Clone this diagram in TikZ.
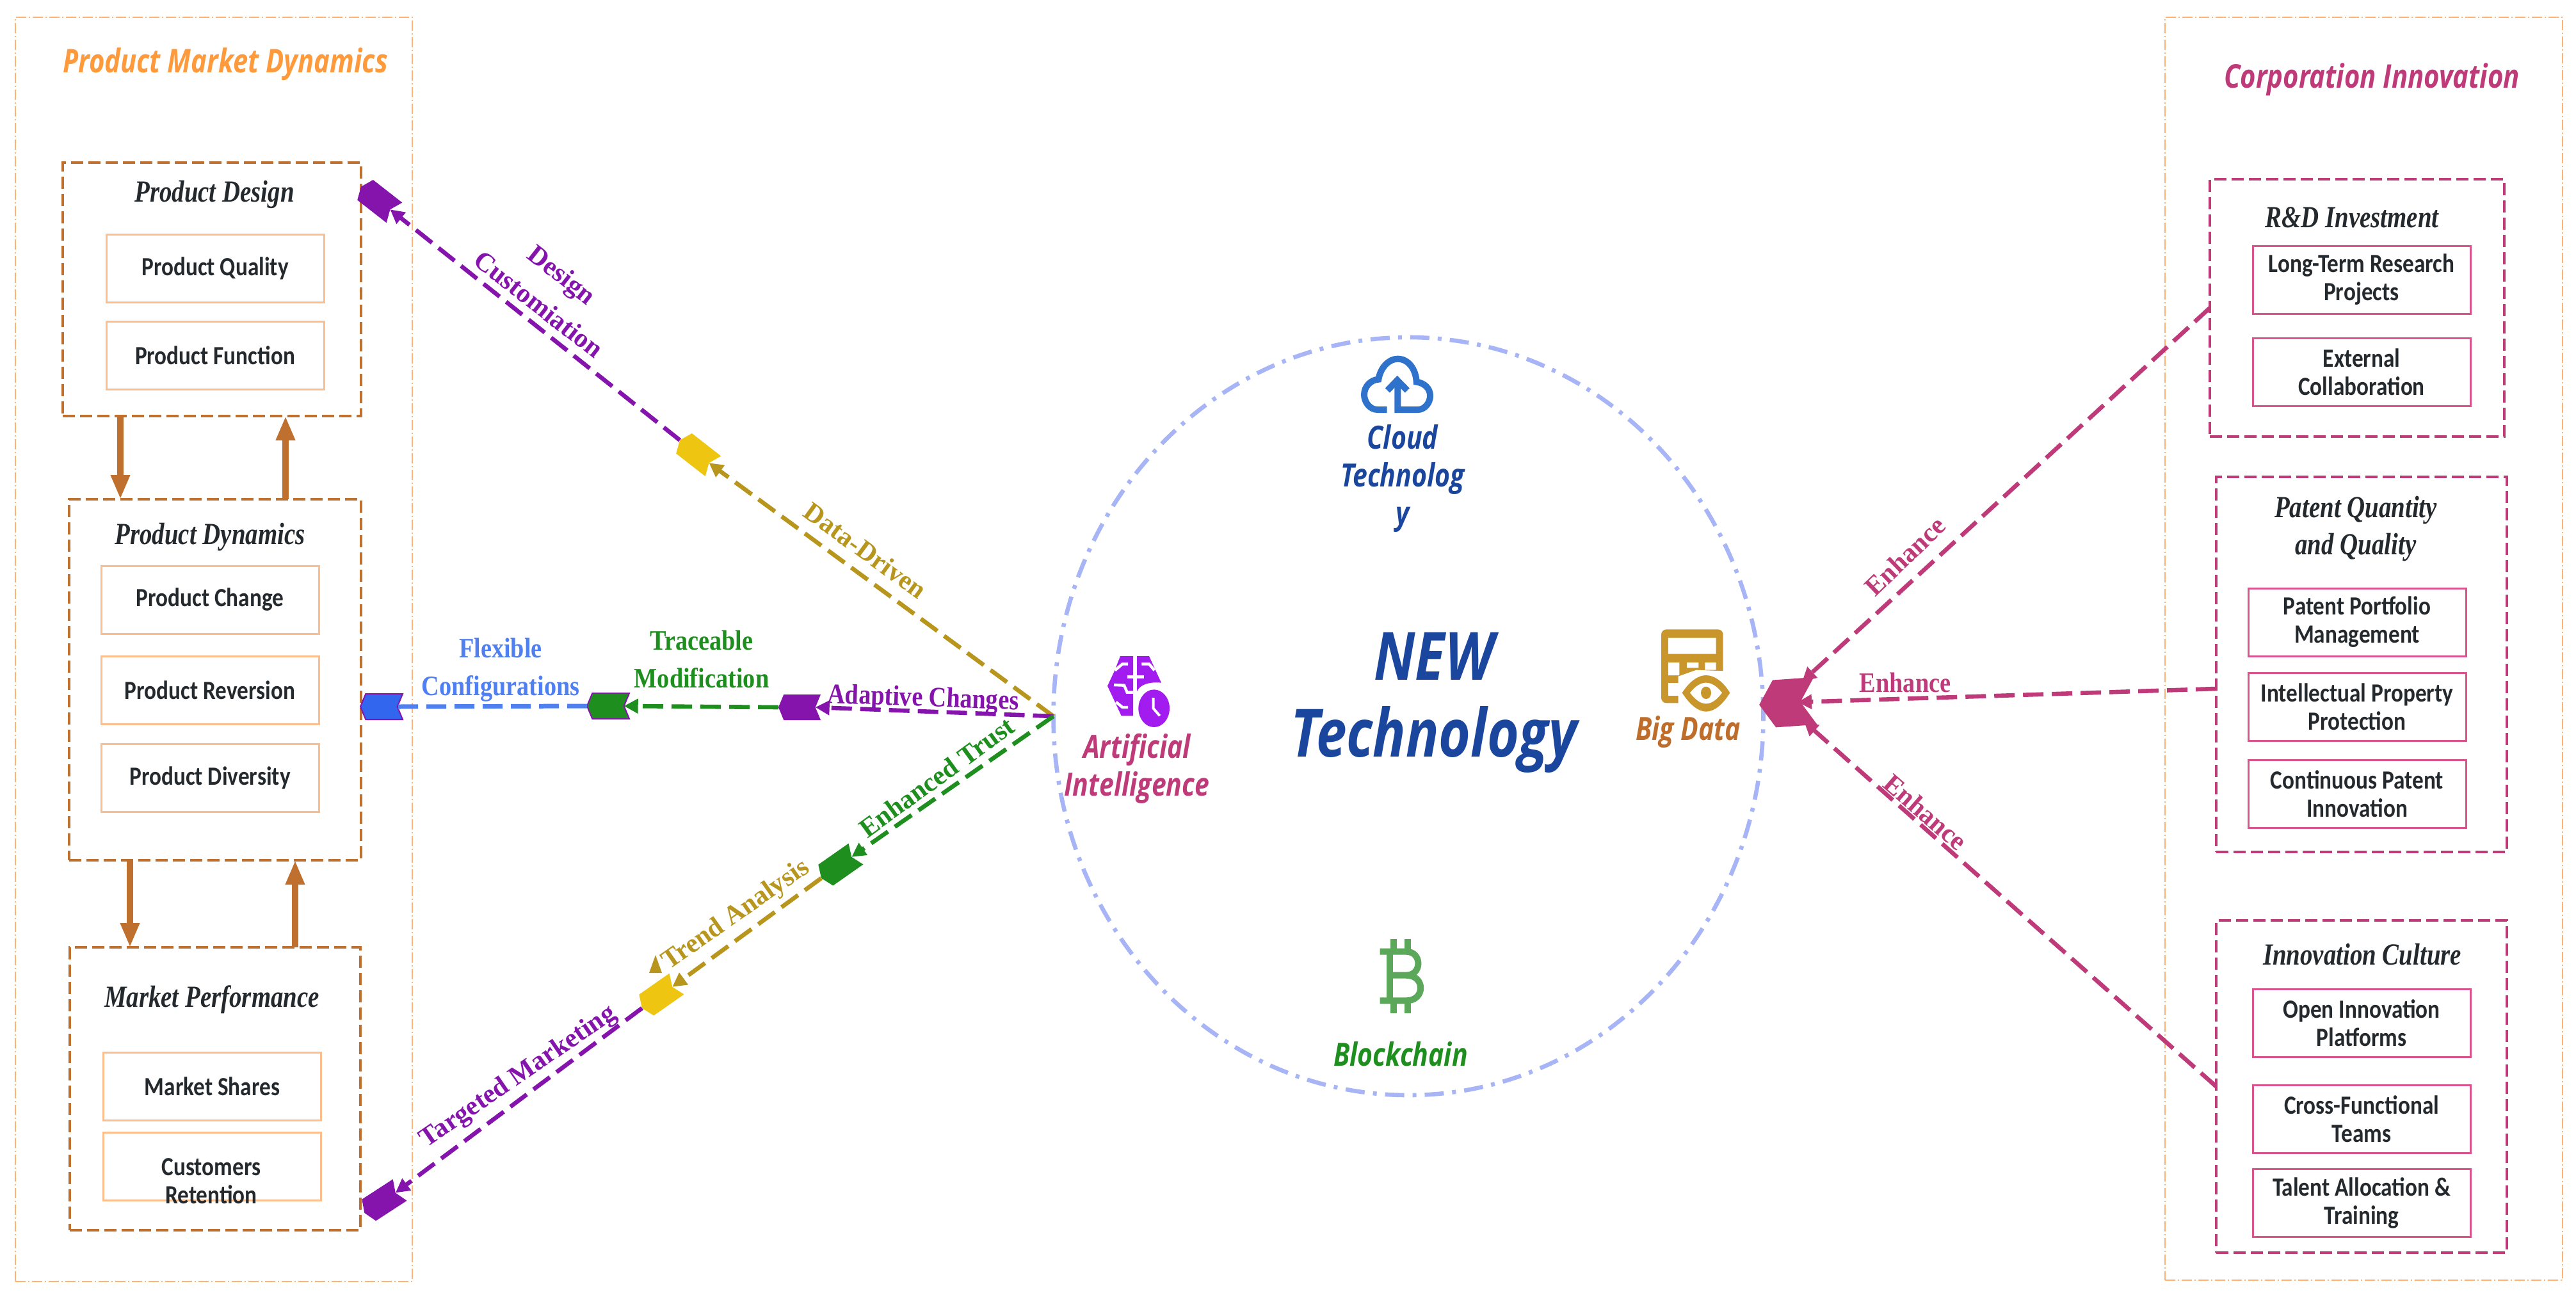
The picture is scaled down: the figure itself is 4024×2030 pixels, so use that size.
\documentclass[tikz,border=0pt]{standalone}
\usepackage{fontspec}
\usetikzlibrary{positioning,arrows.meta,shapes.geometric,shapes.symbols}
\setmainfont{Liberation Serif}
\newfontfamily\labelfont[FakeStretch=.87]{Liberation Serif}
\newfontfamily\titlefont[FakeStretch=.81]{Liberation Serif}
\newfontfamily\itemfont[FakeStretch=.86]{Carlito}
\newfontfamily\headfont[FakeStretch=.82]{Open Sans}
\definecolor{borderorange}{HTML}{FFB272}
\definecolor{headorange}{HTML}{FF9A3C}
\definecolor{brownline}{HTML}{C0702E}
\definecolor{itemorange}{HTML}{FBBE8C}
\definecolor{pinkline}{HTML}{BE3A78}
\definecolor{itempink}{HTML}{D9548F}
\definecolor{flowpurple}{HTML}{8514AD}
\definecolor{flowblue}{HTML}{4F7FF0}
\definecolor{tagblue}{HTML}{3366EE}
\definecolor{flowgreen}{HTML}{1E8F1E}
\definecolor{flowgold}{HTML}{B8961E}
\definecolor{tagyellow}{HTML}{EEC510}
\definecolor{ringblue}{HTML}{A7B4F6}
\definecolor{newblue}{HTML}{1A469E}
\definecolor{itemtext}{HTML}{24292E}
\definecolor{brainpurple}{HTML}{A21CF0}
\definecolor{bigorange}{HTML}{BE6E2A}
\definecolor{biggold}{HTML}{C9962B}
\definecolor{cloudblue}{HTML}{2F72CC}
\definecolor{coingreen}{HTML}{5BA85B}
\tikzset{
  panelbox/.style={draw=borderorange,line width=1pt,dash pattern=on 8pt off 2pt on 1pt off 2pt,outer sep=0pt},
  groupbox/.style={draw=#1,line width=2.2pt,dash pattern=on 9.5pt off 4pt,outer sep=0pt},
  itembox/.style={draw=#1,line width=1.5pt,minimum width=170pt,minimum height=53pt,inner sep=0pt,outer sep=0pt,align=center,
    text=itemtext,font=\itemfont\bfseries\fontsize{20.5}{22}\selectfont},
  itemlabel/.style={text=itemtext,inner sep=0pt,align=center,font=\itemfont\bfseries\fontsize{20.5}{22}\selectfont},
  grouptitle/.style={text=itemtext,inner sep=0pt,align=center,font=\titlefont\bfseries\itshape\fontsize{24}{29}\selectfont},
  headlabel/.style={inner sep=0pt,align=center,font=\headfont\bfseries\itshape\fontsize{25}{29.5}\selectfont},
  flowlabel/.style={text=#1,inner sep=0pt,align=center,font=\bfseries\fontsize{21}{29.5}\selectfont},
  flatlabel/.style={text=#1,inner sep=0pt,align=center,font=\labelfont\bfseries\fontsize{22}{29.5}\selectfont},
  flowtag/.style={signal,signal to=west,signal from=east,signal pointer angle=135,minimum width=33pt,minimum height=20pt,
    inner sep=0pt,outer sep=0pt,fill=#1},
  flow/.style={draw=#1,line width=3.3pt,dash pattern=on 16pt off 6.5pt,-{Triangle[length=11pt,width=11pt]}},
  updown/.style={draw=brownline,line width=5pt,-{Triangle[length=19pt,width=14pt]}}
}
\begin{document}
\begin{tikzpicture}[x=.5pt,y=-.5pt]
  \path[use as bounding box] (0,0) rectangle (4024,2030);

  % left panel
  \node[panelbox,minimum width=310pt,minimum height=987.5pt] (market) at (334,1014.5) {};
  \node[headlabel,text=headorange,font=\headfont\bfseries\itshape\fontsize{25.5}{28}\selectfont] (markettitle) at (352,100) {Product Market Dynamics};

  \node[groupbox=brownline,minimum width=233pt,minimum height=198pt] (design) at (331,452) {};
  \node[grouptitle] (designtitle) at (335,304) {Product Design};
  \node[itembox=itemorange] (quality) at (336,419.5) {Product Quality};
  \node[itembox=itemorange] (function) [below=15pt of quality] {Product Function};

  \node[groupbox=brownline,minimum width=228pt,minimum height=282pt] (dynamics) at (336,1062) {};
  \node[grouptitle] (dynamicstitle) at (328,839) {Product Dynamics};
  \node[itembox=itemorange] (change) at (328,937) {Product Change};
  \node[itembox=itemorange] (reversion) [below=17.5pt of change] {Product Reversion};
  \node[itembox=itemorange] (diversity) [below=15.5pt of reversion] {Product Diversity};

  \node[groupbox=brownline,minimum width=227pt,minimum height=221pt] (performance) at (336,1701) {};
  \node[grouptitle] (performancetitle) at (331,1562) {Market Performance};
  \node[itembox=itemorange] (shares) at (331.5,1697.5) {Market Shares};
  \node[itembox=itemorange] (retention) [below=9.5pt of shares] {};
  \node[itemlabel] (retentiontext) at (330,1845) {Customers\\Retention};

  \coordinate (downa) at (188,0);
  \coordinate (upa) at (446,0);
  \coordinate (downb) at (203,0);
  \coordinate (upb) at (461,0);
  \draw[updown] (design.south -| downa) -- (dynamics.north -| downa);
  \draw[updown] (dynamics.north -| upa) -- (design.south -| upa);
  \draw[updown] (dynamics.south -| downb) -- (performance.north -| downb);
  \draw[updown] (performance.north -| upb) -- (dynamics.south -| upb);

  % right panel
  \node[panelbox,minimum width=310.5pt,minimum height=986.5pt] (corporation) at (3692.5,1013.5) {};
  \node[headlabel,text=pinkline,font=\headfont\bfseries\itshape\fontsize{25.5}{28}\selectfont] (corporationtitle) at (3705,124) {Corporation Innovation};

  \node[groupbox=pinkline,minimum width=230pt,minimum height=201pt] (rd) at (3682,481) {};
  \node[grouptitle] (rdtitle) at (3674,340) {R\&D Investment};
  \node[itembox=itempink] (research) at (3689,437) {Long-Term Research\\Projects};
  \node[itembox=itempink] (external) [below=19pt of research] {External\\Collaboration};

  \node[groupbox=pinkline,minimum width=227pt,minimum height=293pt] (patent) at (3689,1038) {};
  \node[grouptitle] (patenttitle) at (3680,826) {Patent Quantity\\and Quality};
  \node[itembox=itempink] (portfolio) at (3682,972) {Patent Portfolio\\Management};
  \node[itembox=itempink] (property) [below=13pt of portfolio] {Intellectual Property\\Protection};
  \node[itembox=itempink] (continuous) [below=15pt of property] {Continuous Patent\\Innovation};

  \node[groupbox=pinkline,minimum width=227pt,minimum height=259.5pt] (culture) at (3689,1697.5) {};
  \node[grouptitle] (culturetitle) at (3690,1491) {Innovation Culture};
  \node[itembox=itempink] (open) at (3689,1598.5) {Open Innovation\\Platforms};
  \node[itembox=itempink] (cross) [below=22pt of open] {Cross-Functional\\Teams};
  \node[itembox=itempink] (talent) [below=12.5pt of cross] {Talent Allocation \&\\Training};

  % centre
  \node[ellipse,draw=ringblue,line width=3.3pt,dash pattern=on 15pt off 6.5pt on 3pt off 6.5pt,
    minimum width=554.5pt,minimum height=592pt,inner sep=0pt,outer sep=0pt] (newtech) at (2200,1119) {};
  \node[headlabel,text=newblue,font=\headfont\bfseries\itshape\fontsize{52}{60}\selectfont] (newtext) at (2240,1098) {NEW\\Technology};
  \node[headlabel,text=newblue] (cloudtext) at (2191,747) {Cloud\\Technolog\\y};
  \node[headlabel,text=pinkline] (aitext) at (1776,1201) {Artificial\\Intelligence};
  \node[headlabel,text=bigorange] (bigtext) at (2637,1143) {Big Data};
  \node[headlabel,text=flowgreen] (chaintext) at (2188,1647) {Blockchain};

  % cloud icon
  \begin{scope}[shift={(2050,520)},x=.16667pt,y=-.16667pt,draw=cloudblue,line width=5pt]
    \draw (350,360) -- (305,360) .. controls (270,360) and (243,325) .. (243,290)
      .. controls (243,250) and (275,220) .. (310,218) .. controls (320,160) and (360,122) .. (400,122)
      .. controls (450,122) and (485,170) .. (488,230) .. controls (525,235) and (552,260) .. (552,295)
      .. controls (552,330) and (525,360) .. (495,360) -- (400,360) -- (400,230);
    \draw (352,270) -- (398,222) -- (445,270);
  \end{scope}
  % coin icon
  \begin{scope}[shift={(2050,1430)},x=.16667pt,y=-.16667pt,draw=coingreen,line width=5pt]
    \draw (317,170) -- (440,170) .. controls (515,170) and (515,281) .. (440,281) -- (363,281);
    \draw (440,281) .. controls (530,281) and (530,400) .. (440,400) -- (317,400);
    \draw (363,170) -- (363,400);
    \foreach \xa in {380,446} {
      \draw (\xa,112) -- (\xa,170);
      \draw (\xa,400) -- (\xa,458);
    }
  \end{scope}
  % brain icon
  \begin{scope}[shift={(1650,950)},x=.16667pt,y=-.16667pt]
    \fill[brainpurple] (300,225) -- (360,225) -- (360,505) -- (305,505) -- (275,440) -- (240,365) -- (275,290) -- cycle;
    \fill[brainpurple] (378,225) -- (435,225) -- (492,350) .. controls (440,345) and (395,355) .. (378,390) -- cycle;
    \fill[brainpurple] (458,470) ellipse [x radius=73,y radius=88];
    \draw[white,line width=2.2pt] (275,292) -- (310,262) -- (336,262);
    \draw[white,line width=2.2pt] (270,360) -- (318,362) -- (332,395) -- (362,395);
    \draw[white,line width=2.2pt] (280,440) -- (310,465) -- (336,465);
    \draw[white,line width=2.2pt] (332,322) -- (410,322);
    \draw[white,line width=2.2pt] (369,225) -- (369,392);
    \draw[white,line width=2.2pt] (400,262) -- (435,262) -- (460,292);
    \draw[white,line width=2pt] (455,420) -- (455,470) -- (485,505);
  \end{scope}
  % big data icon
  \begin{scope}[shift={(2550,950)},x=.16667pt,y=-.16667pt]
    \fill[biggold,rounded corners=4pt] (135,100) rectangle (425,445);
    \fill[white] (168,140) rectangle (392,215) (168,255) rectangle (220,315) (255,255) rectangle (310,280) (340,255) rectangle (392,290);
    \fill[white] (168,350) rectangle (240,410);
    \fill[white] (215,320) -- (300,290) -- (430,295) -- (430,450) -- (215,450) -- cycle;
    \fill[biggold] (233,397) .. controls (270,340) and (310,315) .. (345,315) .. controls (385,315) and (425,345) .. (457,397)
      .. controls (425,450) and (385,485) .. (345,485) .. controls (310,485) and (270,455) .. (233,397) -- cycle;
    \fill[white] (270,397) .. controls (295,365) and (320,350) .. (345,350) .. controls (370,350) and (395,365) .. (420,397)
      .. controls (395,430) and (370,448) .. (345,448) .. controls (320,448) and (295,430) .. (270,397) -- cycle;
    \fill[biggold] (345,397) ellipse [x radius=24,y radius=29];
  \end{scope}

  % tags on the flows
  \node[flowtag=flowpurple,rotate=-38] (tagdesign) at (590,312) {};
  \node[flowtag=tagyellow,rotate=-38] (tagdata) at (1088,708) {};
  \node[flowtag=tagblue,draw=flowpurple,line width=1pt] (tagflex) at (596,1104) {};
  \node[flowtag=flowgreen,draw=flowpurple,line width=1pt] (tagtrace) at (950,1103) {};
  \node[flowtag=flowpurple] (tagadapt) at (1249,1105) {};
  \node[flowtag=flowgreen,rotate=35] (tagtrust) at (1310,1353) {};
  \node[flowtag=tagyellow,rotate=35] (tagtrend) at (1030,1556) {};
  \node[flowtag=flowpurple,rotate=33] (tagmarket) at (597,1877) {};
  \node[flowtag=pinkline,signal pointer angle=115,minimum width=44pt,minimum height=37pt,rotate=4] (tagbig) at (2792,1098) {};

  \coordinate (enhancea) at (2815,1065);
  \coordinate (enhanceb) at (2808,1097);
  \coordinate (enhancec) at (2818,1127);
  \coordinate (trendmark) at (1024,1506);

  % flows
  \draw[flow=flowgold] (newtech.west) -- (tagdata.east);
  \draw[flow=flowpurple] (tagdata.west) -- (tagdesign.east);
  \draw[flow=flowpurple] (newtech.west) -- (tagadapt.east);
  \draw[flow=flowgreen] (tagadapt.west) -- (tagtrace.east);
  \draw[draw=flowblue,line width=3.5pt,dash pattern=on 15.5pt off 6.5pt] (tagtrace.west) -- (tagflex.east);
  \draw[flow=flowgreen] (newtech.west) -- (tagtrust.east);
  \draw[flow=flowgold] (tagtrust.west) -- (tagtrend.east);
  \draw[flow=flowpurple] (tagtrend.west) -- (tagmarket.east);
  \fill[flowgold] ([shift={(0,-14)}]trendmark) -- ([shift={(10,14)}]trendmark) -- ([shift={(-10,14)}]trendmark) -- cycle;

  \draw[flow=pinkline] (rd.west) -- (enhancea);
  \draw[flow=pinkline] ([yshift=-19pt]patent.west) -- (enhanceb);
  \draw[flow=pinkline] (culture.west) -- (enhancec);

  % labels on the flows
  \node[flowlabel=flowpurple,rotate=-38] (lbldesign) at (860,452) {Design\\Customiation};
  \node[flowlabel=flowgold,rotate=-36] (lbldata) at (1352,860) {Data-Driven};
  \node[flatlabel=flowblue] (lblflex) at (782,1047) {Flexible\\Configurations};
  \node[flatlabel=flowgreen] (lbltrace) at (1096,1030) {Traceable\\Modification};
  \node[flatlabel=flowpurple,rotate=-2] (lbladapt) at (1442,1093) {Adaptive Changes};
  \node[flowlabel=flowgreen,rotate=36] (lbltrust) at (1463,1214) {Enhanced Trust};
  \node[flowlabel=flowgold,rotate=35] (lbltrend) at (1150,1430) {Trend Analysis};
  \node[flowlabel=flowpurple,rotate=34.5] (lblmarket) at (810,1683) {Targeted Marketing};
  \node[flowlabel=pinkline,rotate=44] (lblenha) at (2976,869) {Enhance};
  \node[flatlabel=pinkline] (lblenhb) at (2976,1066) {Enhance};
  \node[flowlabel=pinkline,rotate=-41] (lblenhc) at (3008,1269) {Enhance};
\end{tikzpicture}
\end{document}
